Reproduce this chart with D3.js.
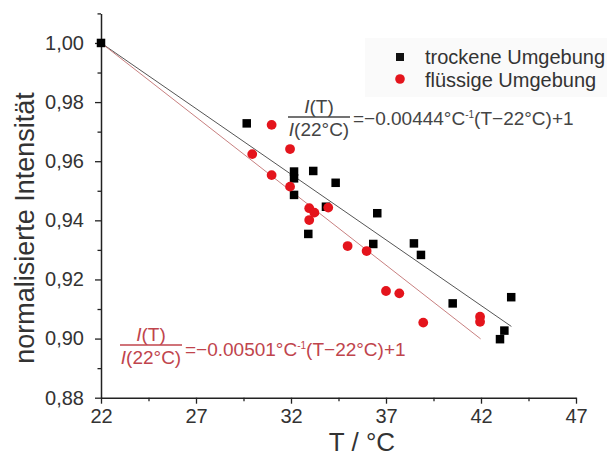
<!DOCTYPE html>
<html>
<head>
<meta charset="utf-8">
<script src="https://cdn.jsdelivr.net/npm/d3@7/dist/d3.min.js"></script>
<style>
  html, body { margin: 0; padding: 0; background: #fff; }
  svg { display: block; font-family: "Liberation Sans", Arial, sans-serif; }
</style>
</head>
<body>
<svg id="chart" width="607" height="456"></svg>
<script>
// Temperature / normalized intensity, dry environment
const dryT = [22, 29.67, 32.16, 32.16, 32.16, 33.17, 34.35, 33.84, 32.91, 36.54, 36.33, 38.47, 38.84, 40.51, 43.59, 43.23, 43.0];
const dryI = [1.000, 0.9728, 0.9565, 0.9542, 0.9486, 0.9567, 0.9527, 0.9446, 0.9354, 0.9424, 0.9320, 0.9322, 0.9283, 0.9119, 0.9140, 0.9027, 0.8998];

// Temperature / normalized intensity, liquid environment
const wetT = [30.98, 31.95, 29.96, 30.98, 31.95, 32.96, 33.23, 32.96, 33.96, 34.98, 35.98, 37.0, 37.7, 38.96, 41.95, 41.95];
const wetI = [0.9723, 0.9641, 0.9624, 0.9553, 0.9514, 0.9441, 0.9426, 0.9401, 0.9443, 0.9313, 0.9296, 0.9161, 0.9153, 0.9054, 0.9074, 0.9057];

// Linear fits: I(T)/I(22°C) = slope·(T − 22) + 1
const fitSlopes = [-0.00444, -0.00501];
const fitEnds = [43.6, 41.98];

const seriesNames = ["trockene Umgebung", "flüssige Umgebung"];
const xTicks = [22, 27, 32, 37, 42, 47];
const yTicks = [0.88, 0.90, 0.92, 0.94, 0.96, 0.98, 1.00];

const svg = d3.select("#chart");

const x = d3.scaleLinear().domain([22, 47]).range([101, 576]);
const y = d3.scaleLinear().domain([0.88, 1.01]).range([397.7, 13.4]);

const fmtY = v => d3.format(".2f")(v).replace(".", ",");

// Axes: major ticks with labels, minor ticks halfway
const yMinor = d3.range(0.89, 1.015, 0.02);
const xMinor = d3.range(24.5, 47, 5);

const axisColor = "#222";

svg.append("g").attr("transform", `translate(${x(22)},0)`)
  .call(d3.axisLeft(y).tickValues(yTicks).tickFormat(fmtY).tickSize(6).tickSizeOuter(0).tickPadding(11));
svg.append("g").attr("transform", `translate(${x(22)},0)`)
  .call(d3.axisLeft(y).tickValues(yMinor).tickFormat("").tickSize(3.5).tickSizeOuter(0))
  .call(g => g.select(".domain").remove());

svg.append("g").attr("transform", `translate(0,${y(0.88)})`)
  .call(d3.axisBottom(x).tickValues(xTicks).tickFormat(d3.format("d")).tickSize(6).tickSizeOuter(0).tickPadding(5));
svg.append("g").attr("transform", `translate(0,${y(0.88)})`)
  .call(d3.axisBottom(x).tickValues(xMinor).tickFormat("").tickSize(3.5).tickSizeOuter(0))
  .call(g => g.select(".domain").remove());

svg.selectAll(".domain").attr("stroke", axisColor).attr("stroke-width", 1.5);
svg.selectAll(".tick line").attr("stroke", axisColor).attr("stroke-width", 1.3);
svg.selectAll(".tick text").attr("fill", "#333").style("font-size", "20px")
  .style("font-family", "'Liberation Sans', Arial, sans-serif");

// Axis titles
svg.append("text")
  .attr("transform", `translate(34,228) rotate(-90)`)
  .attr("text-anchor", "middle")
  .attr("fill", "#333")
  .style("font-size", "27px")
  .text("normalisierte Intensität");

svg.append("text")
  .attr("x", 362).attr("y", 451)
  .attr("text-anchor", "middle")
  .attr("fill", "#333")
  .style("font-size", "26px")
  .text("T / °C");

// Fit lines
const fitColors = ["#555", "#c88080"];
fitSlopes.forEach((s, i) => {
  svg.append("line")
    .attr("x1", x(22)).attr("y1", y(1))
    .attr("x2", x(fitEnds[i])).attr("y2", y(1 + s * (fitEnds[i] - 22)))
    .attr("stroke", fitColors[i]).attr("stroke-width", 1);
});

// Markers
const sq = 8.5;
svg.append("g").selectAll("rect").data(d3.zip(dryT, dryI)).join("rect")
  .attr("x", d => x(d[0]) - sq / 2).attr("y", d => y(d[1]) - sq / 2)
  .attr("width", sq).attr("height", sq).attr("fill", "#000");

svg.append("g").selectAll("circle").data(d3.zip(wetT, wetI)).join("circle")
  .attr("cx", d => x(d[0])).attr("cy", d => y(d[1])).attr("r", 4.9)
  .attr("fill", "#e4141c");

// Legend
const lg = svg.append("g");
lg.append("rect").attr("x", 365).attr("y", 38).attr("width", 242).attr("height", 59).attr("fill", "#fafafa");
lg.append("rect").attr("x", 396).attr("y", 53).attr("width", 8).attr("height", 8).attr("fill", "#111");
lg.append("circle").attr("cx", 400).attr("cy", 79).attr("r", 4.8).attr("fill", "#e4141c");
lg.selectAll("text.lab").data(seriesNames).join("text")
  .attr("class", "lab")
  .attr("x", 425).attr("y", (d, i) => 64 + i * 23)
  .attr("fill", "#333").style("font-size", "20px")
  .text(d => d);

// Fit equations
function equation(cx, barY, mainDy, slopeText, color) {
  const g = svg.append("g").attr("fill", color).style("font-size", "19px");
  const half = 31;
  g.append("line").attr("x1", cx - half).attr("x2", cx + half)
    .attr("y1", barY).attr("y2", barY).attr("stroke", color).attr("stroke-width", 1.3);
  const num = g.append("text").attr("x", cx).attr("y", barY - 4).attr("text-anchor", "middle");
  num.append("tspan").style("font-style", "italic").text("I");
  num.append("tspan").text("(T)");
  const den = g.append("text").attr("x", cx).attr("y", barY + 19).attr("text-anchor", "middle");
  den.append("tspan").style("font-style", "italic").text("I");
  den.append("tspan").text("(22°C)");
  const main = g.append("text").attr("x", cx + half + 3).attr("y", barY + mainDy);
  main.append("tspan").text("=\u2212" + slopeText + "°C");
  main.append("tspan").attr("dy", -7).style("font-size", "10px").text("-1");
  main.append("tspan").attr("dy", 7).text("(T\u221222°C)+1");
}
equation(319, 117, 8, "0.00444", "#444");
equation(151, 345, 11, "0.00501", "#c0444c");
</script>
</body>
</html>
